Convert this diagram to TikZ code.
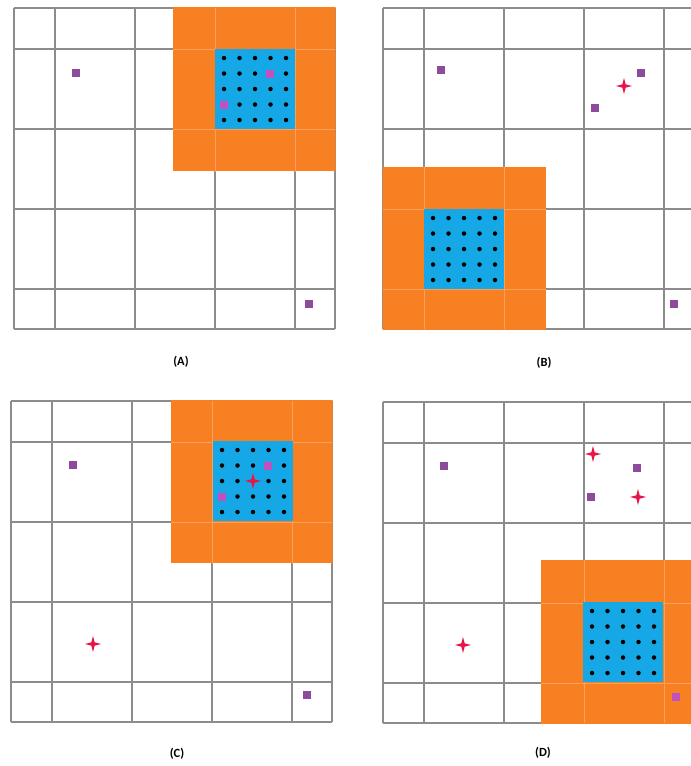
\documentclass[tikz,border=0pt]{standalone}
\usepackage{fontspec}
\setmainfont{Carlito}
\usetikzlibrary{shapes.geometric}
\definecolor{gridgray}{RGB}{140,140,140}
\definecolor{boxorange}{RGB}{247,128,34}
\definecolor{orangeline}{RGB}{250,160,95}
\definecolor{cellblue}{RGB}{22,168,230}
\definecolor{markpurple}{RGB}{140,75,155}
\definecolor{markmagenta}{RGB}{192,82,192}
\definecolor{starred}{RGB}{232,20,72}
% grid of one panel, local units
\newcommand{\panelgrid}{%
  \foreach \g in {0,41,121,201,281,321}{
    \draw[gridline] (\g,0) -- (\g,321);
    \draw[gridline] (0,\g) -- (321,\g);
  }}
% orange zone + blue cell + 5x5 dots, #1 name, (#2,#3) centre
\newcommand{\sensorblock}[3]{%
  \begin{scope}
    \clip (-0.5,-0.5) rectangle (321.5,321.5);
    \fill[boxorange] (#2-82,#3-82) rectangle (#2+82,#3+82);
    \clip (#2-82,#3-82) rectangle (#2+82,#3+82);
    \foreach \g in {41,121,201,281}{
      \draw[faintline] (\g,0) -- (\g,321);
      \draw[faintline] (0,\g) -- (321,\g);
    }
  \end{scope}
  \fill[cellblue] (#2-40,#3-40) rectangle (#2+40,#3+40);
  \foreach \i in {1,...,5}
    \foreach \j in {1,...,5}
      \node[dot] (#1-\i-\j) at ({#2+(\i-3)*15.5},{#3+(\j-3)*15.5}) {};
}

\begin{document}
\begin{tikzpicture}[x=1pt,y=-1pt,
  gridline/.style={gridgray,line width=1.1pt},
  faintline/.style={orangeline,line width=0.7pt},
  dot/.style={circle,fill=black,inner sep=0pt,minimum size=4.5pt},
  sq/.style={rectangle,fill=markpurple,inner sep=0pt,minimum size=8pt},
  sqin/.style={sq,fill=markmagenta},
  spark/.style={star,star points=4,star point ratio=3.4,fill=starred,inner sep=0pt,minimum size=16pt},
  caption/.style={font=\fontsize{12.5}{14}\selectfont\bfseries}]
\clip (0,0) rectangle (691,766);
\fill[white] (0,0) rectangle (691,766);

% (A): block on the upper right
\begin{scope}[shift={(14,8)}]
  \panelgrid
  \sensorblock{A}{241}{81}
  \node[sq] (A-s1) at (62,65) {};
  \node[sqin] (A-s2) at (256,66) {};
  \node[sqin] (A-s3) at (210,97) {};
  \node[sq] (A-s4) at (295,296) {};
\end{scope}
\node[caption] (capA) at (181,362) {(A)};

% (B): block moved to the lower left
\begin{scope}[shift={(383,8)}]
  \panelgrid
  \sensorblock{B}{81}{241}
  \node[sq] (B-s1) at (58,62) {};
  \node[sq] (B-s2) at (258,65) {};
  \node[sq] (B-s3) at (212,100) {};
  \node[spark] (B-p1) at (241,78) {};
  \node[sq] (B-s4) at (291,296) {};
\end{scope}
\node[caption] (capB) at (544,363) {(B)};

% (C): block back on the upper right
\begin{scope}[shift={(11,401)}]
  \panelgrid
  \sensorblock{C}{242}{80}
  \node[sq] (C-s1) at (62,64) {};
  \node[sqin] (C-s2) at (257,65) {};
  \node[sqin] (C-s3) at (211,96) {};
  \node[spark] (C-p1) at (242,80) {};
  \node[spark] (C-p2) at (82,243) {};
  \node[sq] (C-s4) at (296,294) {};
\end{scope}
\node[caption] (capC) at (177,754) {(C)};

% (D): block on the lower right
\begin{scope}[shift={(383,402)}]
  \panelgrid
  \sensorblock{D}{240}{240}
  \node[sq] (D-s1) at (61,64) {};
  \node[spark] (D-p1) at (210,52) {};
  \node[sq] (D-s2) at (254,66) {};
  \node[sq] (D-s3) at (208,95) {};
  \node[spark] (D-p2) at (255,95) {};
  \node[spark] (D-p3) at (80,243) {};
  \node[sqin] (D-s4) at (293,295) {};
\end{scope}
\node[caption] (capD) at (543,753) {(D)};
\end{tikzpicture}
\end{document}
